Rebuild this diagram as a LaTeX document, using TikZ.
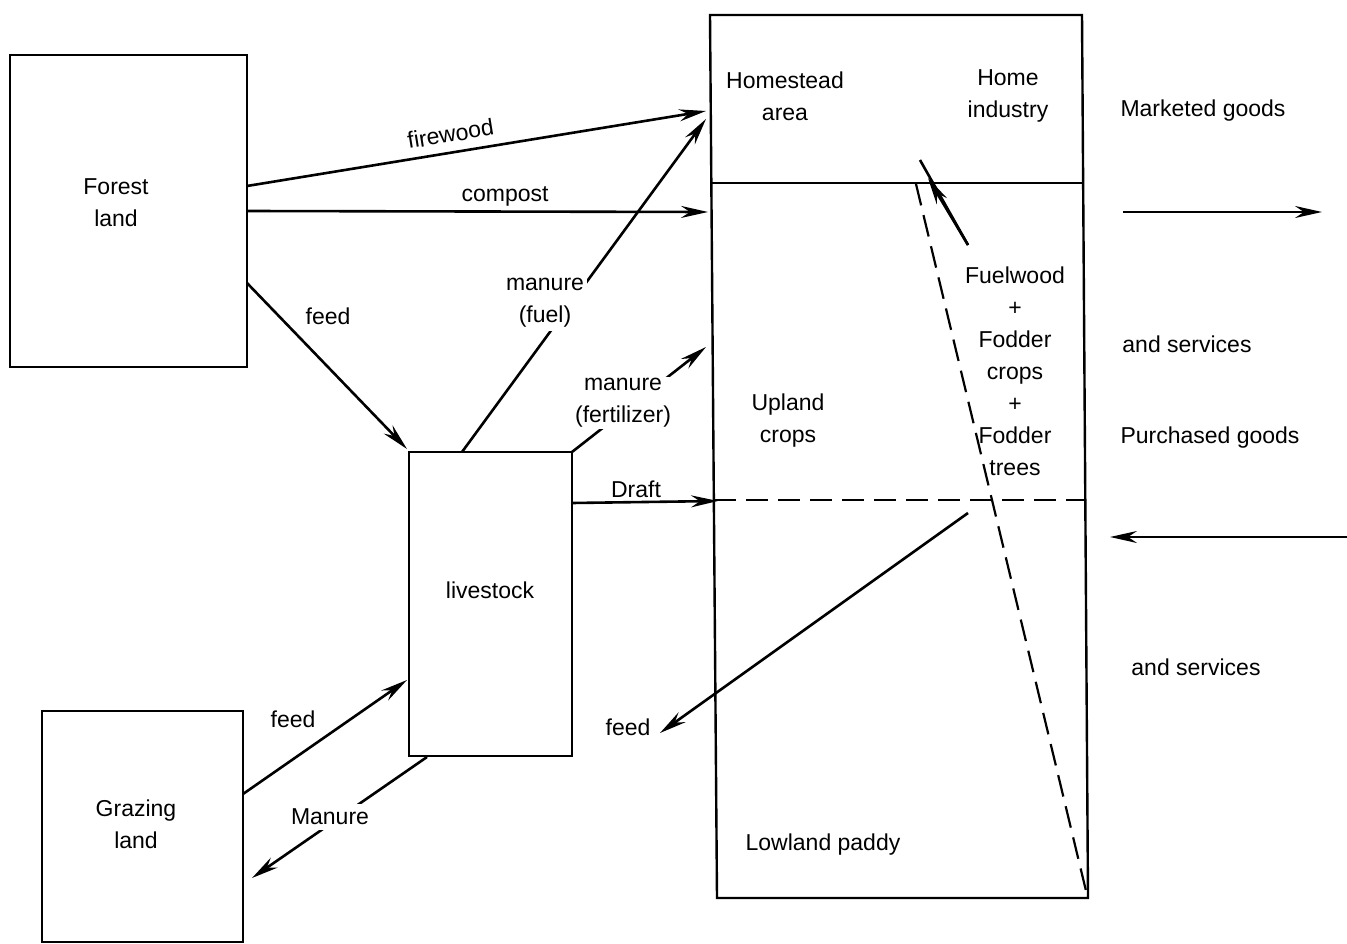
\documentclass[tikz,border=0pt]{standalone}
\usepackage{fontspec}
\setmainfont{Liberation Sans}
\usetikzlibrary{arrows.meta}
\begin{document}
\begin{tikzpicture}[x=1pt,y=-1pt,
  every node/.style={font=\fontsize{23}{32}\selectfont, inner sep=2pt},
  ln/.style={line width=2.6pt},
  arr/.style={ln, -{Stealth[length=27pt,width=12pt,inset=9pt]}},
  boxn/.style={draw, line width=2.4pt, inner sep=0pt},
  lbl/.style={align=center},
  gaplbl/.style={align=center, fill=white, inner sep=4pt},
  dsh/.style={line width=2.2pt, dash pattern=on 22pt off 10pt}]
\useasboundingbox (0,0) rectangle (1347,944);

% boxes
\node[boxn, minimum width=237pt, minimum height=312pt] (forest) at (128.5,211) {};
\node[boxn, minimum width=201pt, minimum height=231pt] (grazing) at (142.5,826.5) {};
\node[boxn, minimum width=163pt, minimum height=304pt] (livestock) at (490.5,604) {};
\node[lbl] (forestT) at (116,203) {Forest\\land};
\node[lbl] (grazingT) at (136,824) {Grazing\\land};
\node[lbl] (livestockT) at (490,590) {livestock};

% big farm box
\coordinate (TL) at (710,15);
\coordinate (TR) at (1082,15);
\coordinate (BR) at (1088,898);
\coordinate (BL) at (717,898);
\draw[line width=2.4pt] (TL) -- (TR) -- (BR) -- (BL) -- cycle;
\coordinate (h1) at (711,183);
\coordinate (h2) at (1083,183);
\draw[line width=2.4pt] (h1) -- (h2);
\coordinate (d1) at (714,500);
\coordinate (d2) at (1086,500);
\draw[dsh] (d1) -- (d2);
\coordinate (s1) at (916,184);
\coordinate (s2) at (1087,895);
\draw[dsh] (s1) -- (s2);

% texts in farm box
\node[lbl] (home) at (785,96) {Homestead\\area};
\node[lbl] (ind) at (1008,96) {Home\\industry};
\node[lbl] (upl) at (788,421) {Upland\\crops};
\node[lbl] (fuel) at (1015,371) {Fuelwood\\+\\Fodder\\crops\\+\\Fodder\\trees};
\node[lbl] (low) at (823,845) {Lowland paddy};

% right texts
\node (mk) at (1203,111) {Marketed goods};
\node (as1) at (1187,344) {and services};
\node (pg) at (1210,438) {Purchased goods};
\node (as2) at (1196,667) {and services};

% endpoints
\coordinate (fwA) at (247,186);
\coordinate (fwB) at (706,111);
\coordinate (cpA) at (247,211);
\coordinate (cpB) at (708,212);
\coordinate (fdA) at (247,283);
\coordinate (fdB) at (407,449);
\coordinate (mfA) at (462,452);
\coordinate (mfB) at (706,119);
\coordinate (mzA) at (572,452);
\coordinate (mzB) at (706,347);
\coordinate (drA) at (572,503);
\coordinate (drB) at (718,501);
\coordinate (gwA) at (968,245);
\coordinate (gwB) at (928,178);
\coordinate (gwC) at (920,160);
\coordinate (lfA) at (968,513);
\coordinate (lfB) at (660,733);
\coordinate (gfA) at (243,794);
\coordinate (gfB) at (407,680);
\coordinate (gmA) at (427,757);
\coordinate (gmB) at (252,878);
\coordinate (mkA) at (1123,212);
\coordinate (mkB) at (1322,212);
\coordinate (pgA) at (1347,537);
\coordinate (pgB) at (1110,537);

% connectors
\draw[arr] (fwA) -- node[sloped, above=7pt, pos=0.45] (fwL) {firewood} (fwB);
\draw[arr] (cpA) -- node[above=2pt, pos=0.56] (cpL) {compost} (cpB);
\draw[arr] (fdA) -- (fdB);
\node (fdL) at (328,316) {feed};
\draw[arr] (mfA) -- (mfB);
\node[gaplbl, inner sep=3pt] (mfL) at (545,303) {manure\\(fuel)};
\draw[arr] (mzA) -- (mzB);
\node[gaplbl, inner sep=1pt] (mzL) at (623,403) {manure\\(fertilizer)};
\draw[arr] (drA) -- (drB);
\node (drL) at (636,489) {Draft};
\draw[ln] (gwA) -- (gwC);
\draw[arr] (gwA) -- (gwB);
\draw[arr] (lfA) -- (lfB);
\node (lfL) at (628,727) {feed};
\draw[arr] (gfA) -- (gfB);
\node (gfL) at (293,719) {feed};
\draw[arr] (gmA) -- (gmB);
\node[gaplbl, inner sep=5pt] (gmL) at (330,817) {Manure};
\draw[arr] (mkA) -- (mkB);
\draw[arr] (pgA) -- (pgB);
\end{tikzpicture}
\end{document}
